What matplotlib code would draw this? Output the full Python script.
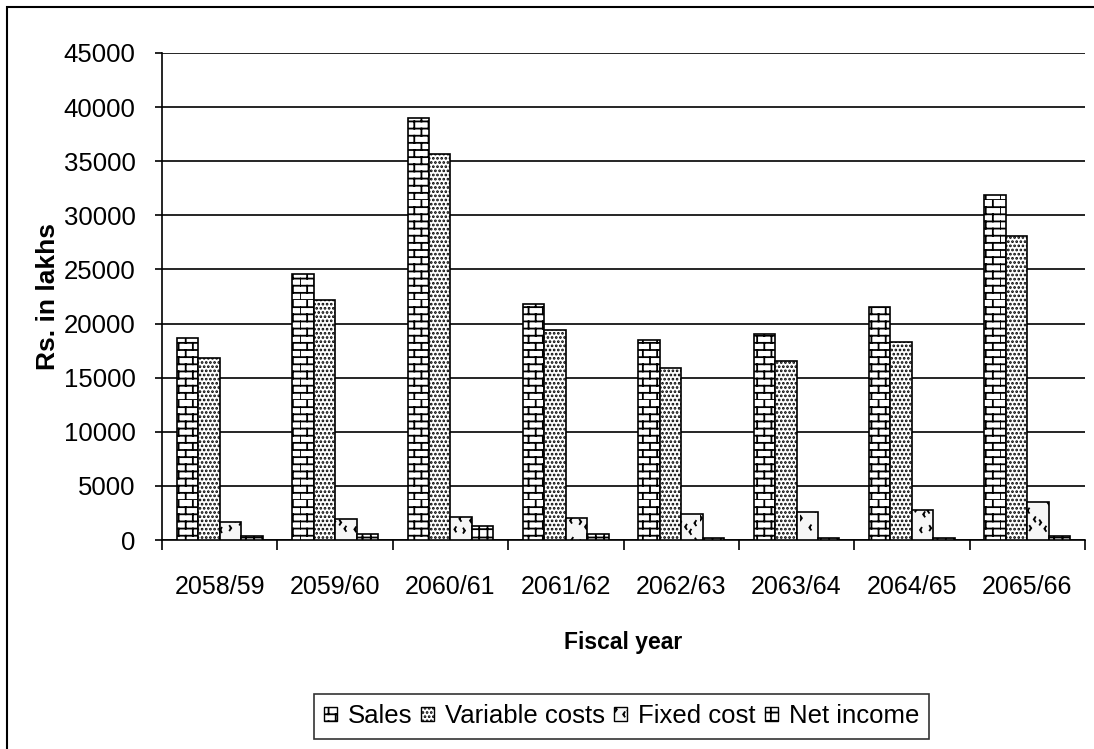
import numpy as np
import matplotlib
matplotlib.use("Agg")
import matplotlib.pyplot as plt
import matplotlib.hatch as mhatch
from matplotlib.path import Path
from matplotlib.patches import Rectangle, Patch

# ---- data (Rs. in lakhs) ----
years = ["2058/59", "2059/60", "2060/61", "2061/62",
         "2062/63", "2063/64", "2064/65", "2065/66"]
sales = [18700, 24600, 39000, 21800, 18500, 19000, 21500, 31900]
variable_costs = [16800, 22200, 35700, 19400, 15900, 16500, 18300, 28100]
fixed_cost = [1700, 1900, 2100, 2050, 2400, 2600, 2800, 3500]
net_income = [350, 550, 1300, 550, 200, 200, 200, 350]
series_names = ["Sales", "Variable costs", "Fixed cost", "Net income"]
y_ticks = [0, 5000, 10000, 15000, 20000, 25000, 30000, 35000, 40000, 45000]


# ---- custom fill textures ----
class BrickHatch(mhatch.HatchPatternBase):
    """Running-bond brick courses, selected with '*'."""

    def __init__(self, hatch, density):
        n = hatch.count("*")
        self.rows = 14 * n
        self.cols = 7 * n
        self.num_vertices = (2 * self.rows + 2 * self.rows * self.cols) if n else 0

    def set_vertices_and_codes(self, vertices, codes):
        h = 1.0 / self.rows
        w = 1.0 / self.cols
        pts = []
        for r in range(self.rows):
            pts += [(0.0, r * h), (1.0, r * h)]
        for r in range(self.rows):
            shift = 0.5 * w * (r % 2)
            for c in range(self.cols):
                x = c * w + shift
                pts += [(x, r * h), (x, r * h + h)]
        vertices[:] = pts
        codes[0::2] = Path.MOVETO
        codes[1::2] = Path.LINETO


class ChevronHatch(mhatch.HatchPatternBase):
    """Scattered small '<' / '>' marks, selected with 'O'."""

    jx = [0.2, -0.3, 0.1, 0.35, -0.15, 0.25, -0.35, 0.05, -0.2, 0.3, 0.0]
    jy = [0.1, 0.35, -0.25, 0.2, -0.3, 0.3, 0.05, -0.15, 0.25, -0.05, -0.35, 0.15, 0.0]

    def __init__(self, hatch, density):
        n = hatch.count("O")
        self.grid = 8 * n
        self.num_vertices = 3 * self.grid * self.grid if n else 0

    def set_vertices_and_codes(self, vertices, codes):
        g = self.grid
        d = 0.022
        pts = []
        for i in range(g):
            for j in range(g):
                k = i * g + j
                x = (i + 0.5 + self.jx[k % len(self.jx)]) / g
                y = (j + 0.5 + self.jy[k % len(self.jy)]) / g
                s = 1 if (k * 7) % 3 else -1
                pts += [(x + s * d * 0.7, y + d), (x, y), (x + s * d * 0.7, y - d)]
        vertices[:] = pts
        codes[0::3] = Path.MOVETO
        codes[1::3] = Path.LINETO
        codes[2::3] = Path.LINETO


mhatch._hatch_types = [mhatch.HorizontalHatch, mhatch.VerticalHatch,
                       mhatch.SmallFilledCircles, BrickHatch, ChevronHatch]

plt.rcParams["hatch.linewidth"] = 1.3
plt.rcParams["font.family"] = ["Liberation Sans", "DejaVu Sans"]

styles = [
    dict(facecolor="white", hatch="*"),
    dict(facecolor="white", hatch="...."),
    dict(facecolor="#f6f6f6", hatch="O"),
    dict(facecolor="white", hatch="++"),
]

fig = plt.figure(figsize=(10.94, 7.49), dpi=100)
ax = fig.add_axes([162 / 1094, 1 - 540 / 749, (1085 - 162) / 1094, (540 - 53) / 749])

x = np.arange(len(years))
bw = 0.186
all_series = [sales, variable_costs, fixed_cost, net_income]
for k, (vals, st) in enumerate(zip(all_series, styles)):
    ax.bar(x + (k - 1.5) * bw, vals, width=bw, edgecolor="black",
           linewidth=1.2, zorder=3, **st)

ax.set_xlim(-0.5, len(years) - 0.5)
ax.set_ylim(0, 45000)
ax.set_yticks(y_ticks)
ax.set_yticklabels([str(v) for v in y_ticks])
ax.yaxis.grid(True, color="black", linewidth=1.2, zorder=0)
ax.set_axisbelow(True)

ax.set_xticks(x)
ax.set_xticklabels(years)
ax.set_xticks(np.arange(len(years) + 1) - 0.5, minor=True)
ax.tick_params(axis="x", which="major", length=0, pad=25, labelsize=18)
ax.tick_params(axis="x", which="minor", length=7, width=1.2, direction="out")
ax.tick_params(axis="y", length=5, width=1.2, pad=14, labelsize=18.5)

for side in ("top", "right"):
    ax.spines[side].set_visible(False)
for side in ("left", "bottom"):
    ax.spines[side].set_linewidth(1.2)

ax.set_ylabel("Rs. in lakhs", fontsize=19, fontweight="bold", va="center")
ax.yaxis.set_label_coords((48 - 162) / 923, 0.5)
ax.set_xlabel("Fiscal year", fontsize=16.5, fontweight="bold", va="center")
ax.xaxis.set_label_coords(0.5, -(643 - 540) / 487)

handles = [Patch(edgecolor="black", linewidth=1.0, label=n, **st)
           for n, st in zip(series_names, styles)]
leg = fig.legend(handles=handles, loc="upper center", ncol=4,
                 bbox_to_anchor=(621.5 / 1094, 1 - 694 / 749),
                 fontsize=18.5, frameon=True, fancybox=False, edgecolor="black",
                 handlelength=0.5, handleheight=0.5, handletextpad=0.43,
                 columnspacing=0.35, borderpad=0.4, borderaxespad=0)
leg.get_frame().set_linewidth(1.2)

# outer chart-area border
fig.add_artist(Rectangle((7 / 1094, -0.2), 1.2, 0.2 + 1 - 7 / 749,
                         transform=fig.transFigure, fill=False,
                         edgecolor="black", linewidth=1.5))

fig.savefig("out.png", dpi=100)
